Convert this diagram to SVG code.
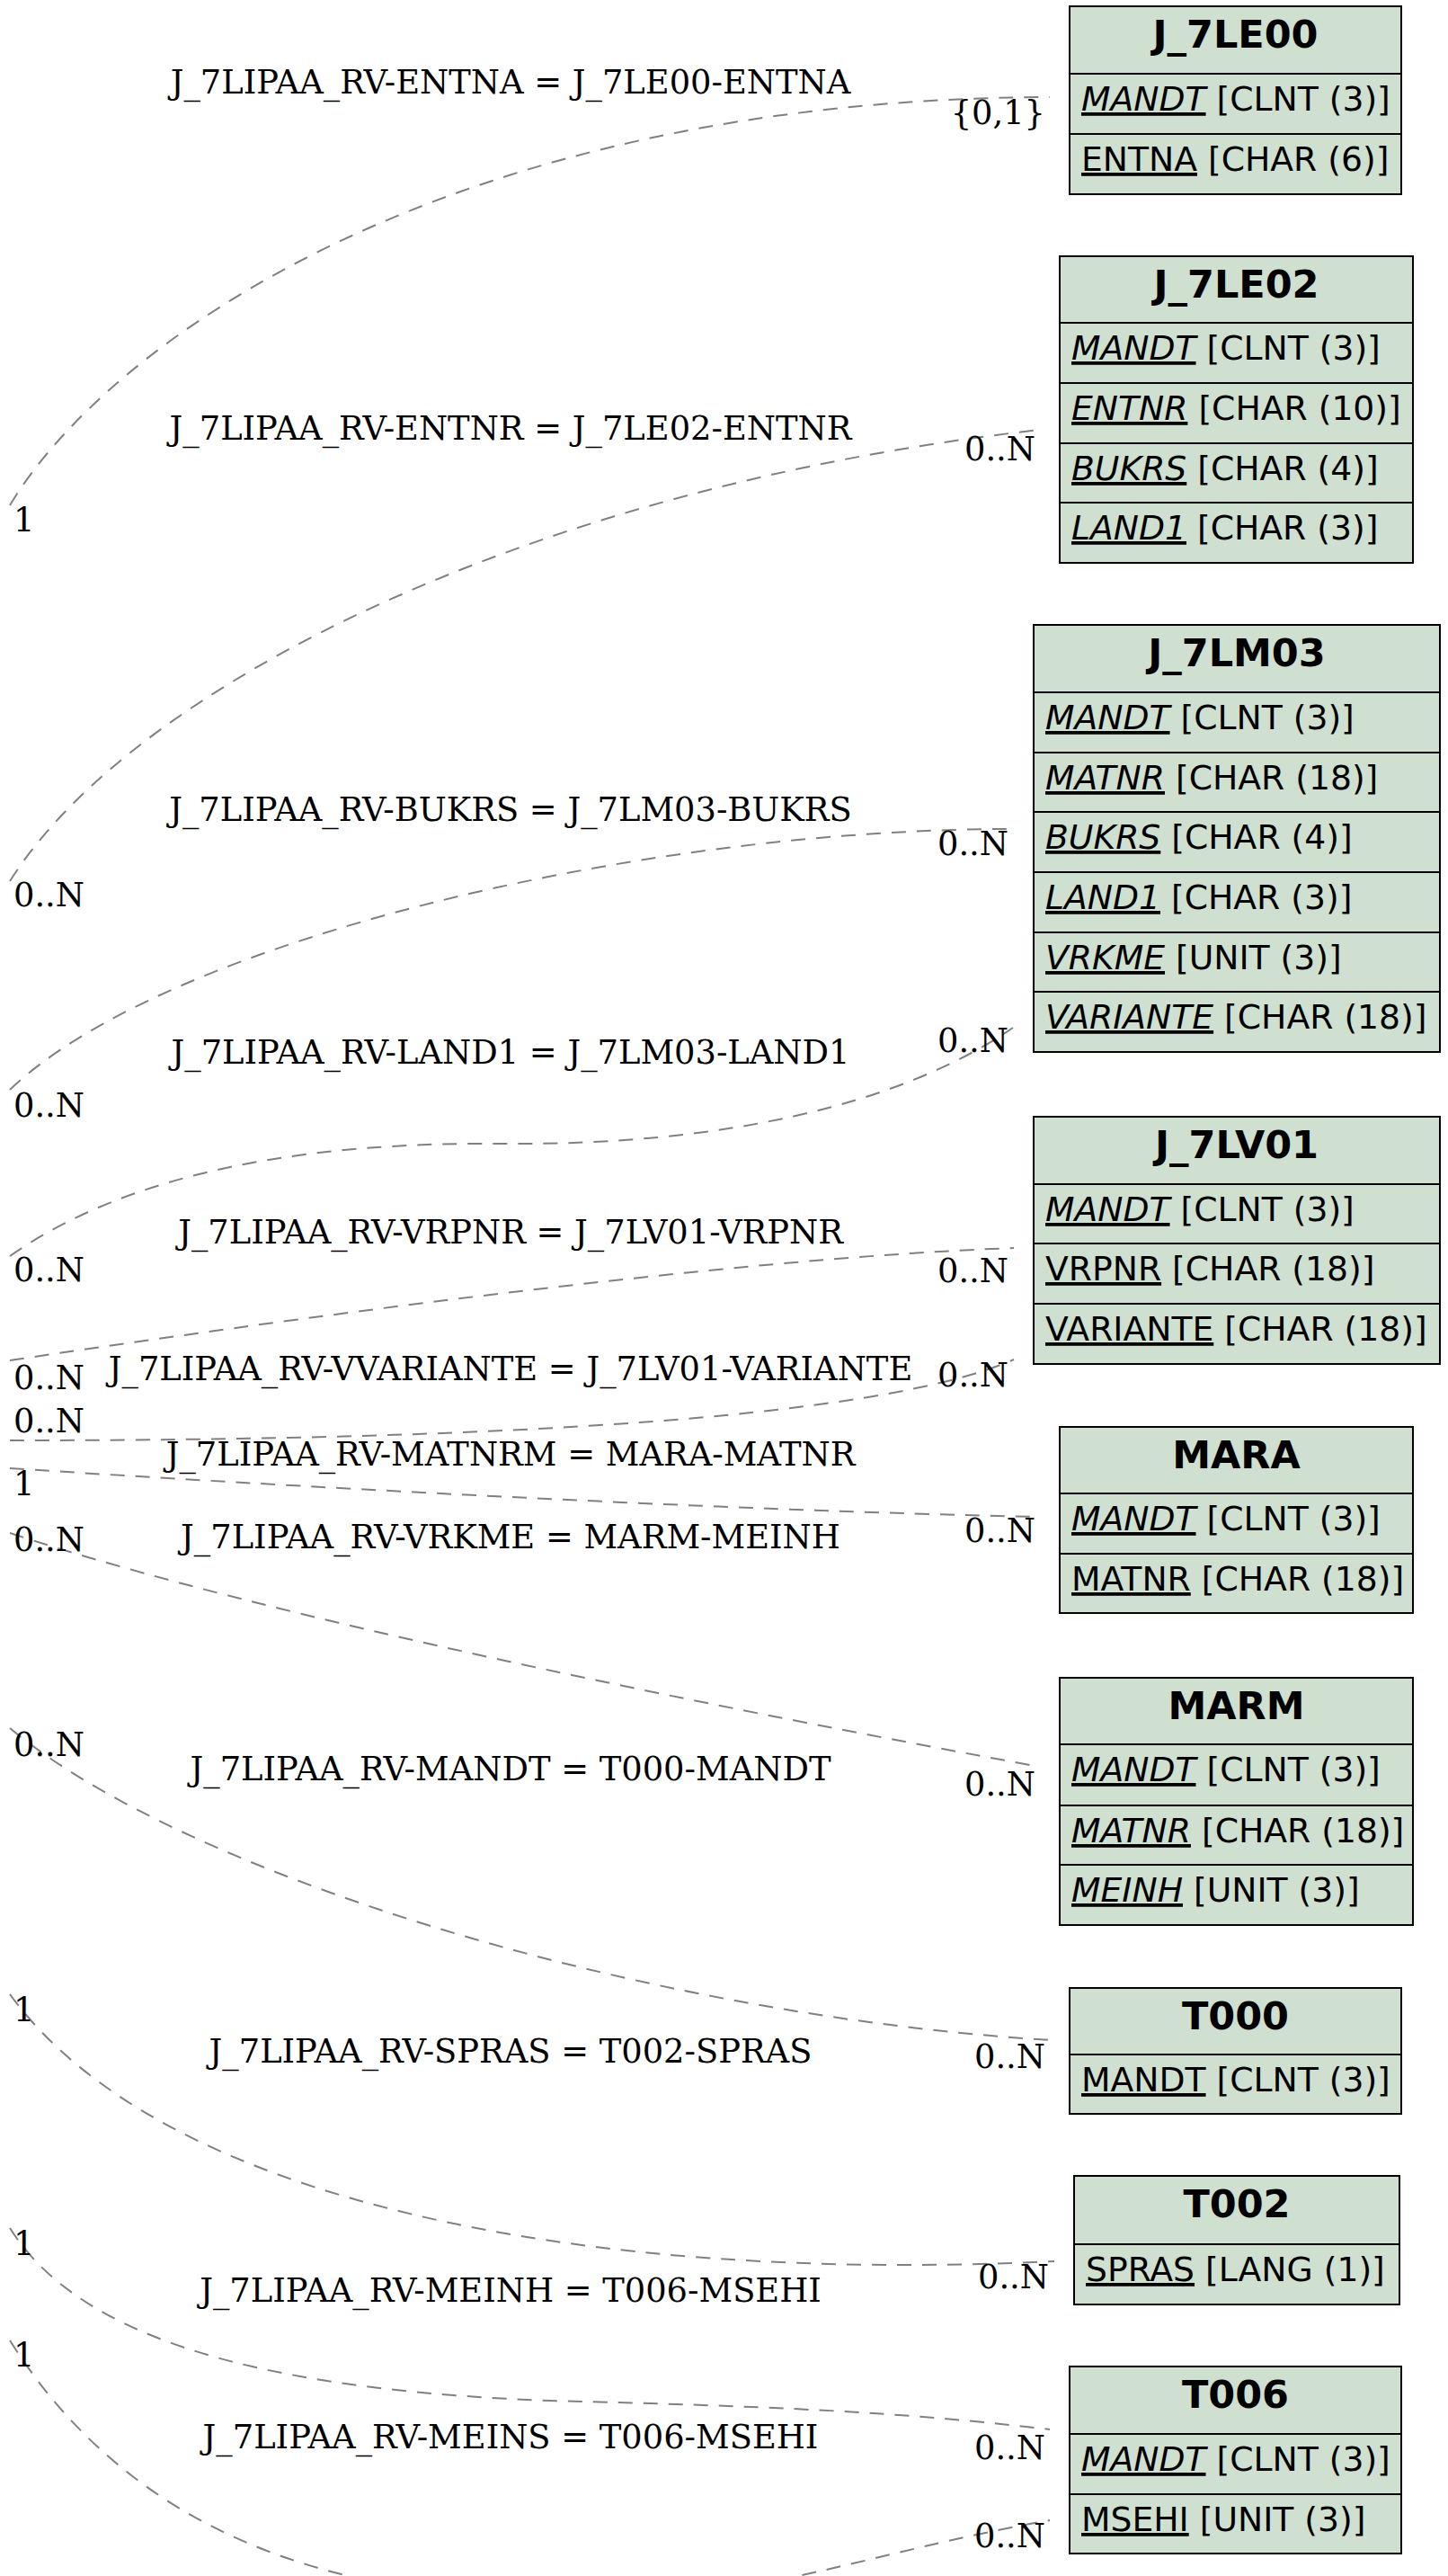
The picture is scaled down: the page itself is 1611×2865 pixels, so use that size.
<svg xmlns="http://www.w3.org/2000/svg" width="1611" height="2865" viewBox="0 0 1611 2865">
<style>
.bx{fill:#d0e0d0;stroke:#000;stroke-width:2}
.hd{font-family:"DejaVu Sans",sans-serif;font-weight:bold;font-size:43px;text-anchor:middle;fill:#000}
.rw{font-family:"DejaVu Sans",sans-serif;font-size:37.7px;fill:#000}
.k{text-decoration:underline}
.i{font-style:italic}
.ed{fill:none;stroke:#808080;stroke-width:2;stroke-dasharray:16,12}
.lb{font-family:"DejaVu Serif",serif;font-size:36.8px;fill:#000}
.c{text-anchor:middle}
.e{text-anchor:end}
</style>
<rect width="1611" height="2865" fill="#fff"/>
<g id="edges">
 <g id="e1">
  <path class="ed" d="M11 562 C120 380 500 110 1168 108"/>
  <text class="lb c" x="568" y="104">J_7LIPAA_RV-ENTNA = J_7LE00-ENTNA</text>
  <text class="lb" x="15" y="591">1</text>
  <text class="lb e" x="1163" y="138">{0,1}</text>
 </g>
 <g id="e2">
  <path class="ed" d="M11 980 C150 760 600 540 1157 478"/>
  <text class="lb c" x="568" y="489">J_7LIPAA_RV-ENTNR = J_7LE02-ENTNR</text>
  <text class="lb" x="15" y="1008">0..N</text>
  <text class="lb e" x="1152" y="512">0..N</text>
 </g>
 <g id="e3">
  <path class="ed" d="M11 1212 C180 1050 700 922 1127 922"/>
  <text class="lb c" x="568" y="913">J_7LIPAA_RV-BUKRS = J_7LM03-BUKRS</text>
  <text class="lb" x="15" y="1242">0..N</text>
  <text class="lb e" x="1122" y="951">0..N</text>
 </g>
 <g id="e4">
  <path class="ed" d="M11 1397 C150 1300 350 1270 560 1272 C800 1274 1000 1230 1127 1143"/>
  <text class="lb c" x="568" y="1183">J_7LIPAA_RV-LAND1 = J_7LM03-LAND1</text>
  <text class="lb" x="15" y="1425">0..N</text>
  <text class="lb e" x="1122" y="1170">0..N</text>
 </g>
 <g id="e5">
  <path class="ed" d="M11 1513 C300 1470 800 1400 1128 1388"/>
  <text class="lb c" x="568" y="1383">J_7LIPAA_RV-VRPNR = J_7LV01-VRPNR</text>
  <text class="lb" x="15" y="1545">0..N</text>
  <text class="lb e" x="1122" y="1426">0..N</text>
 </g>
 <g id="e6">
  <path class="ed" d="M11 1602 C400 1602 950 1590 1128 1512"/>
  <text class="lb c" x="568" y="1535">J_7LIPAA_RV-VVARIANTE = J_7LV01-VARIANTE</text>
  <text class="lb" x="15" y="1593">0..N</text>
  <text class="lb e" x="1122" y="1542">0..N</text>
 </g>
 <g id="e7">
  <path class="ed" d="M11 1633 C300 1652 800 1680 1157 1687"/>
  <text class="lb c" x="568" y="1630">J_7LIPAA_RV-MATNRM = MARA-MATNR</text>
  <text class="lb" x="15" y="1663">1</text>
  <text class="lb e" x="1152" y="1715">0..N</text>
 </g>
 <g id="e8">
  <path class="ed" d="M11 1705 C300 1800 800 1900 1157 1965"/>
  <text class="lb c" x="568" y="1722">J_7LIPAA_RV-VRKME = MARM-MEINH</text>
  <text class="lb" x="15" y="1725">0..N</text>
  <text class="lb e" x="1152" y="1997">0..N</text>
 </g>
 <g id="e9">
  <path class="ed" d="M11 1922 C200 2080 700 2240 1168 2269"/>
  <text class="lb c" x="568" y="1980">J_7LIPAA_RV-MANDT = T000-MANDT</text>
  <text class="lb" x="15" y="1953">0..N</text>
  <text class="lb e" x="1163" y="2300">0..N</text>
 </g>
 <g id="e10">
  <path class="ed" d="M11 2218 C180 2450 650 2540 1173 2515"/>
  <text class="lb c" x="568" y="2294">J_7LIPAA_RV-SPRAS = T002-SPRAS</text>
  <text class="lb" x="15" y="2248">1</text>
  <text class="lb e" x="1167" y="2545">0..N</text>
 </g>
 <g id="e11">
  <path class="ed" d="M11 2478 C100 2620 350 2660 612 2670 C850 2676 1000 2682 1168 2702"/>
  <text class="lb c" x="568" y="2560">J_7LIPAA_RV-MEINH = T006-MSEHI</text>
  <text class="lb" x="15" y="2508">1</text>
  <text class="lb e" x="1163" y="2735">0..N</text>
 </g>
 <g id="e12">
  <path class="ed" d="M11 2603 C160 2840 410 2893 650 2892 C850 2891 960 2840 1168 2803"/>
  <text class="lb c" x="568" y="2723">J_7LIPAA_RV-MEINS = T006-MSEHI</text>
  <text class="lb" x="15" y="2632">1</text>
  <text class="lb e" x="1163" y="2833">0..N</text>
 </g>
</g>
<g id="J_7LE00">
 <rect class="bx" x="1190" y="7" width="369" height="75"/>
 <rect class="bx" x="1190" y="82" width="369" height="67"/>
 <rect class="bx" x="1190" y="149" width="369" height="67"/>
 <text class="hd" x="1374.5" y="53">J_7LE00</text>
 <text class="rw" x="1203" y="123"><tspan class="k i">MANDT</tspan> [CLNT (3)]</text>
 <text class="rw" x="1203" y="190"><tspan class="k">ENTNA</tspan> [CHAR (6)]</text>
</g>
<g id="J_7LE02">
 <rect class="bx" x="1179" y="285" width="393" height="74"/>
 <rect class="bx" x="1179" y="359" width="393" height="67"/>
 <rect class="bx" x="1179" y="426" width="393" height="67"/>
 <rect class="bx" x="1179" y="493" width="393" height="66"/>
 <rect class="bx" x="1179" y="559" width="393" height="67"/>
 <text class="hd" x="1375.5" y="331">J_7LE02</text>
 <text class="rw" x="1192" y="400"><tspan class="k i">MANDT</tspan> [CLNT (3)]</text>
 <text class="rw" x="1192" y="467"><tspan class="k i">ENTNR</tspan> [CHAR (10)]</text>
 <text class="rw" x="1192" y="534"><tspan class="k i">BUKRS</tspan> [CHAR (4)]</text>
 <text class="rw" x="1192" y="600"><tspan class="k i">LAND1</tspan> [CHAR (3)]</text>
</g>
<g id="J_7LM03">
 <rect class="bx" x="1150" y="695" width="452" height="75"/>
 <rect class="bx" x="1150" y="770" width="452" height="67"/>
 <rect class="bx" x="1150" y="837" width="452" height="66"/>
 <rect class="bx" x="1150" y="903" width="452" height="67"/>
 <rect class="bx" x="1150" y="970" width="452" height="67"/>
 <rect class="bx" x="1150" y="1037" width="452" height="66"/>
 <rect class="bx" x="1150" y="1103" width="452" height="67"/>
 <text class="hd" x="1376" y="741">J_7LM03</text>
 <text class="rw" x="1163" y="811"><tspan class="k i">MANDT</tspan> [CLNT (3)]</text>
 <text class="rw" x="1163" y="878"><tspan class="k i">MATNR</tspan> [CHAR (18)]</text>
 <text class="rw" x="1163" y="944"><tspan class="k i">BUKRS</tspan> [CHAR (4)]</text>
 <text class="rw" x="1163" y="1011"><tspan class="k i">LAND1</tspan> [CHAR (3)]</text>
 <text class="rw" x="1163" y="1078"><tspan class="k i">VRKME</tspan> [UNIT (3)]</text>
 <text class="rw" x="1163" y="1144"><tspan class="k i">VARIANTE</tspan> [CHAR (18)]</text>
</g>
<g id="J_7LV01">
 <rect class="bx" x="1150" y="1242" width="452" height="75"/>
 <rect class="bx" x="1150" y="1317" width="452" height="66"/>
 <rect class="bx" x="1150" y="1383" width="452" height="67"/>
 <rect class="bx" x="1150" y="1450" width="452" height="67"/>
 <text class="hd" x="1376" y="1288">J_7LV01</text>
 <text class="rw" x="1163" y="1358"><tspan class="k i">MANDT</tspan> [CLNT (3)]</text>
 <text class="rw" x="1163" y="1424"><tspan class="k">VRPNR</tspan> [CHAR (18)]</text>
 <text class="rw" x="1163" y="1491"><tspan class="k">VARIANTE</tspan> [CHAR (18)]</text>
</g>
<g id="MARA">
 <rect class="bx" x="1179" y="1587" width="393" height="74"/>
 <rect class="bx" x="1179" y="1661" width="393" height="67"/>
 <rect class="bx" x="1179" y="1728" width="393" height="66"/>
 <text class="hd" x="1375.5" y="1633">MARA</text>
 <text class="rw" x="1192" y="1702"><tspan class="k i">MANDT</tspan> [CLNT (3)]</text>
 <text class="rw" x="1192" y="1769"><tspan class="k">MATNR</tspan> [CHAR (18)]</text>
</g>
<g id="MARM">
 <rect class="bx" x="1179" y="1866" width="393" height="74"/>
 <rect class="bx" x="1179" y="1940" width="393" height="68"/>
 <rect class="bx" x="1179" y="2008" width="393" height="66"/>
 <rect class="bx" x="1179" y="2074" width="393" height="67"/>
 <text class="hd" x="1375.5" y="1912">MARM</text>
 <text class="rw" x="1192" y="1981"><tspan class="k i">MANDT</tspan> [CLNT (3)]</text>
 <text class="rw" x="1192" y="2049"><tspan class="k i">MATNR</tspan> [CHAR (18)]</text>
 <text class="rw" x="1192" y="2115"><tspan class="k i">MEINH</tspan> [UNIT (3)]</text>
</g>
<g id="T000">
 <rect class="bx" x="1190" y="2211" width="369" height="74"/>
 <rect class="bx" x="1190" y="2285" width="369" height="66"/>
 <text class="hd" x="1374.5" y="2257">T000</text>
 <text class="rw" x="1203" y="2326"><tspan class="k">MANDT</tspan> [CLNT (3)]</text>
</g>
<g id="T002">
 <rect class="bx" x="1195" y="2420" width="362" height="76"/>
 <rect class="bx" x="1195" y="2496" width="362" height="67"/>
 <text class="hd" x="1376" y="2466">T002</text>
 <text class="rw" x="1208" y="2537"><tspan class="k">SPRAS</tspan> [LANG (1)]</text>
</g>
<g id="T006">
 <rect class="bx" x="1190" y="2632" width="369" height="75"/>
 <rect class="bx" x="1190" y="2707" width="369" height="67"/>
 <rect class="bx" x="1190" y="2774" width="369" height="66"/>
 <text class="hd" x="1374.5" y="2678">T006</text>
 <text class="rw" x="1203" y="2748"><tspan class="k i">MANDT</tspan> [CLNT (3)]</text>
 <text class="rw" x="1203" y="2815"><tspan class="k">MSEHI</tspan> [UNIT (3)]</text>
</g>
</svg>
